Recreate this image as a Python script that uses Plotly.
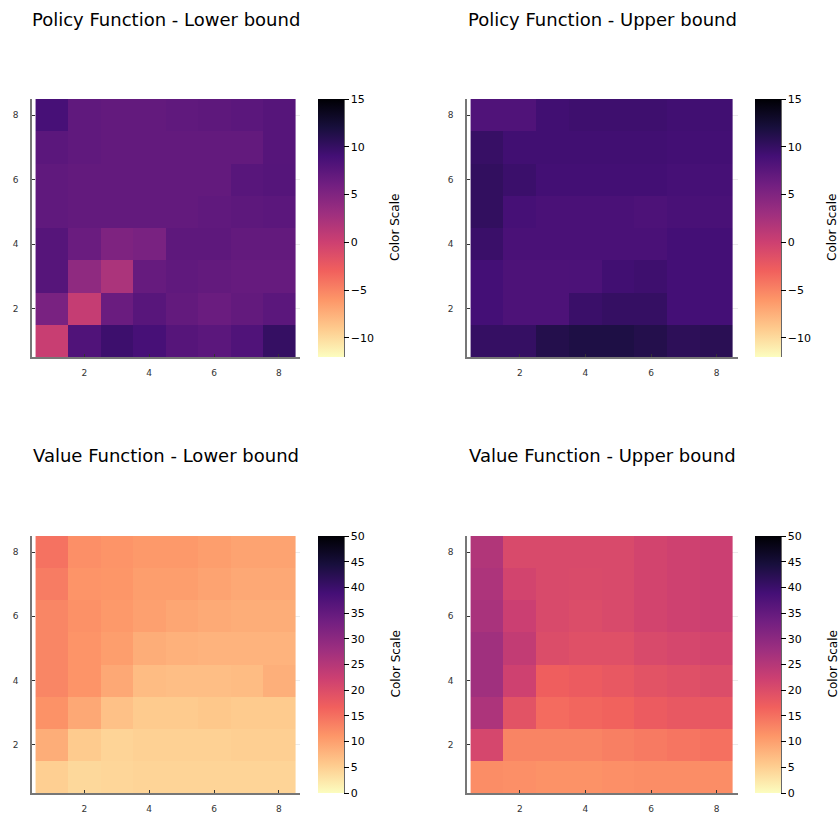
import plotly.graph_objects as go

W, H = 839, 813

x_vals = [1, 2, 3, 4, 5, 6, 7, 8]
y_vals = [1, 2, 3, 4, 5, 6, 7, 8]
tick_vals = [2, 4, 6, 8]
titles = ["Policy Function - Lower bound", "Policy Function - Upper bound",
          "Value Function - Lower bound", "Value Function - Upper bound"]
policy_range = [-12, 15]
policy_ticks = [-10, -5, 0, 5, 10, 15]
value_range = [0, 50]
value_ticks = [0, 5, 10, 15, 20, 25, 30, 35, 40, 45, 50]

# rows listed from y=1 (bottom) to y=8 (top)
policy_lower = [
    [0.3, 8.2, 9.5, 8.8, 7.8, 7.5, 8.2, 10.0],
    [5.5, 0.5, 6.5, 7.7, 7.0, 6.5, 7.0, 7.5],
    [7.8, 4.0, 2.2, 6.8, 7.2, 7.0, 6.8, 6.8],
    [7.8, 6.5, 5.2, 5.5, 7.3, 7.3, 7.0, 7.0],
    [7.2, 7.0, 7.0, 7.0, 7.0, 7.2, 7.4, 7.5],
    [7.2, 7.0, 7.0, 7.0, 7.0, 7.0, 7.7, 7.9],
    [7.5, 7.2, 7.0, 7.0, 7.0, 7.0, 7.0, 7.8],
    [8.8, 7.2, 7.0, 7.0, 7.2, 7.3, 7.5, 7.8],
]
policy_upper = [
    [10.0, 10.0, 11.2, 11.6, 11.6, 11.2, 10.6, 10.8],
    [9.0, 8.4, 8.4, 9.7, 10.0, 10.0, 9.0, 9.0],
    [9.0, 8.4, 8.4, 8.5, 9.2, 9.4, 9.0, 9.0],
    [9.7, 8.6, 8.6, 8.6, 8.6, 8.6, 9.0, 9.0],
    [10.2, 8.9, 8.6, 8.6, 8.6, 8.4, 8.7, 8.7],
    [10.2, 9.6, 9.1, 9.1, 9.1, 9.1, 8.9, 8.9],
    [9.9, 9.2, 9.2, 9.2, 9.2, 9.2, 9.1, 9.1],
    [8.2, 8.2, 9.2, 9.4, 9.4, 9.4, 9.2, 9.2],
]
value_lower = [
    [5.0, 4.0, 4.2, 4.5, 4.5, 4.5, 4.5, 4.5],
    [8.7, 5.5, 4.5, 4.8, 4.8, 4.8, 5.0, 5.0],
    [11.5, 9.2, 6.5, 5.5, 5.5, 5.8, 5.5, 5.5],
    [12.8, 11.3, 9.2, 7.0, 6.8, 6.8, 7.0, 8.4],
    [12.8, 11.3, 10.3, 8.7, 8.2, 8.0, 8.0, 8.0],
    [12.8, 11.6, 10.8, 10.0, 9.4, 9.0, 8.7, 8.7],
    [13.8, 11.3, 11.1, 10.3, 10.3, 9.7, 9.2, 9.2],
    [14.8, 11.8, 11.3, 10.8, 10.8, 10.3, 9.7, 9.7],
]
value_upper = [
    [12.0, 11.8, 11.5, 11.5, 11.8, 12.0, 12.0, 12.0],
    [21.0, 13.0, 13.0, 13.0, 13.5, 14.0, 14.5, 15.0],
    [26.0, 19.0, 15.5, 16.0, 16.5, 17.5, 18.0, 18.0],
    [27.5, 22.0, 17.0, 17.5, 18.0, 19.0, 19.5, 20.0],
    [27.5, 23.5, 20.0, 19.5, 19.5, 20.5, 21.0, 21.5],
    [26.5, 22.5, 20.5, 20.0, 20.5, 21.5, 22.0, 22.5],
    [26.0, 21.5, 20.5, 20.3, 20.5, 21.5, 22.0, 22.5],
    [25.5, 20.5, 20.5, 20.5, 20.5, 21.5, 22.0, 22.5],
]

panels = [
    (policy_lower, policy_range, policy_ticks),
    (policy_upper, policy_range, policy_ticks),
    (value_lower, value_range, value_ticks),
    (value_upper, value_range, value_ticks),
]

# pixel layout: (axis left, axis right, top, bottom, colorbar left, title y)
boxes = [
    (32, 300, 99, 357, 318, 19),
    (467, 738, 99, 357, 755, 19),
    (32, 300, 536, 793, 318, 456),
    (467, 738, 536, 793, 755, 456),
]


def px(v):
    return v / W


def py(v):
    return 1 - v / H


fig = go.Figure()
annotations = []
shapes = []
font = "DejaVu Sans"

for i, ((z, zr, zt), (l, r, t, b, cbl, ty)) in enumerate(zip(panels, boxes)):
    n = i + 1
    xa = "x" if n == 1 else f"x{n}"
    ya = "y" if n == 1 else f"y{n}"
    fig.add_trace(go.Heatmap(
        x=x_vals, y=y_vals, z=z, zmin=zr[0], zmax=zr[1],
        colorscale="Magma_r", xaxis=xa, yaxis=ya,
        colorbar=dict(
            x=px(cbl), xanchor="left", xpad=0, ypad=0,
            y=py((t + b) / 2), yanchor="middle",
            len=b - t, lenmode="pixels", thickness=26, thicknessmode="pixels",
            outlinewidth=0, ticks="outside", ticklen=5, tickwidth=1.2,
            tickcolor="black", tickvals=zt,
            ticktext=[("\u2212" + str(-v)) if v < 0 else str(v) for v in zt],
            tickfont=dict(family=font, size=11, color="black"),
        ),
        hoverinfo="skip",
    ))
    axkw = dict(showline=True, linecolor="#777777", linewidth=1.5,
                ticks="inside", ticklen=3, tickcolor="#333333", tickwidth=1,
                tickvals=tick_vals, showgrid=True, gridcolor="rgba(0,0,0,0.08)",
                zeroline=False, tickfont=dict(family=font, size=9, color="#333333"),
                mirror=False)
    fig.layout[f"xaxis{'' if n == 1 else n}"] = dict(
        domain=[px(l), px(r)], anchor=ya, range=[0.39, 8.65],
        ticklabelstandoff=6, **axkw)
    fig.layout[f"yaxis{'' if n == 1 else n}"] = dict(
        domain=[py(b), py(t)], anchor=xa, range=[0.5, 8.5],
        ticklabelstandoff=10, **axkw)
    annotations.append(dict(
        text=titles[i], x=px((l + r) / 2), y=py(ty), xref="paper", yref="paper",
        xanchor="center", yanchor="middle", showarrow=False,
        font=dict(family=font, size=18, color="black"),
    ))
    annotations.append(dict(
        text="Color Scale", x=px(cbl + 77), y=py((t + b) / 2),
        xref="paper", yref="paper", xanchor="center", yanchor="middle",
        textangle=-90, showarrow=False,
        font=dict(family=font, size=12, color="black"),
    ))
    shapes.append(dict(type="line", xref="paper", yref="paper",
                       x0=px(cbl + 26), x1=px(cbl + 26),
                       y0=py(b), y1=py(t),
                       line=dict(color="black", width=1.2)))

fig.update_layout(
    width=W, height=H, margin=dict(l=0, r=0, t=0, b=0),
    paper_bgcolor="white", plot_bgcolor="white",
    annotations=annotations, shapes=shapes, showlegend=False,
)

fig.write_html("out.html",
               config={"displayModeBar": False},
               post_script="document.body.style.margin='0';"
                           "document.body.style.overflow='hidden';")
